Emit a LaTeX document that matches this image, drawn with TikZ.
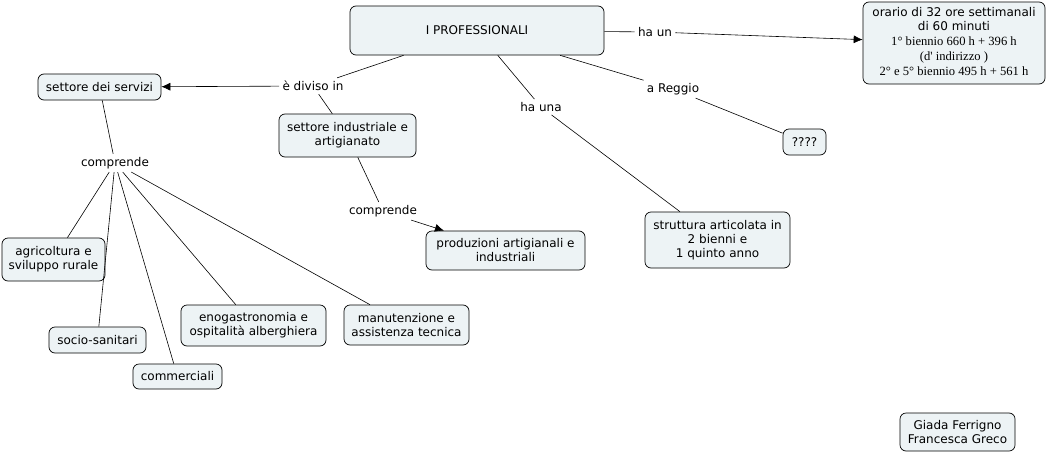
\documentclass[tikz,border=0pt]{standalone}
\usepackage{fontspec}
\usetikzlibrary{arrows.meta}
\setmainfont{DejaVu Sans}
\newfontfamily\tnr{Liberation Serif}
\newcommand\mapfont{\fontsize{12}{14}\selectfont}
\newcommand\timesfont{\tnr\fontsize{12.6}{15}\selectfont}
\definecolor{boxfill}{RGB}{237,243,245}
\tikzset{>={Latex[length=9pt,width=8pt]}}
\tikzset{concept/.style={draw, rounded corners=6pt, fill=boxfill, align=center, font=\mapfont, inner sep=1pt, line width=0.7pt}}
\tikzset{link/.style={font=\mapfont, inner sep=3pt}}

\begin{document}
\begin{tikzpicture}[x=1pt,y=-1pt,line width=0.6pt]
    \useasboundingbox (0,0) rectangle (1051,455);
    \node[concept, minimum width=254pt, minimum height=49pt] (prof) at (477,30.5) {I PROFESSIONALI};
    \node[concept, minimum width=182pt, minimum height=82pt] (orario) at (954,43) {\begin{tabular}{@{}c@{}}orario di 32 ore settimanali\\ di 60 minuti\\[1pt] {\timesfont 1° biennio 660 h + 396 h}\\[1pt] {\timesfont (d' indirizzo )}\\[1pt] {\timesfont 2° e 5° biennio 495 h + 561 h}\end{tabular}};
    \node[concept, minimum width=123pt, minimum height=26pt] (servizi) at (99.5,87) {settore dei servizi};
    \node[concept, minimum width=137pt, minimum height=43pt] (industr) at (347.5,135.5) {settore industriale e\\ artigianato};
    \node[concept, minimum width=43pt, minimum height=26pt] (ignoto) at (804.5,142) {????};
    \node[concept, minimum width=103pt, minimum height=43pt] (agri) at (53.5,259.5) {agricoltura e\\ sviluppo rurale};
    \node[concept, minimum width=159pt, minimum height=39pt] (produz) at (505.5,250.5) {produzioni artigianali e\\ industriali};
    \node[concept, minimum width=145pt, minimum height=56pt] (strutt) at (717.5,240) {struttura articolata in\\ 2 bienni e\\ 1 quinto anno};
    \node[concept, minimum width=145pt, minimum height=41pt] (enogas) at (253.5,325.5) {enogastronomia e\\ ospitalità alberghiera};
    \node[concept, minimum width=125pt, minimum height=40pt] (manut) at (406.5,325) {manutenzione e\\ assistenza tecnica};
    \node[concept, minimum width=97pt, minimum height=26pt] (socio) at (97.5,340) {socio-sanitari};
    \node[concept, minimum width=89pt, minimum height=25pt] (commerc) at (177.5,376.5) {commerciali};
    \node[concept, minimum width=115pt, minimum height=38pt] (autori) at (957.5,432) {Giada Ferrigno\\ Francesca Greco};

    \node[link] (haun) at (655,32) {ha un};
    \node[link] (diviso) at (313,86) {è diviso in};
    \node[link] (hauna) at (541,107) {ha una};
    \node[link] (reggio) at (673,89) {a Reggio};
    \node[link] (compserv) at (115,163) {comprende};
    \node[link] (compind) at (383,211) {comprende};

    \draw (prof) -- (haun);
    \draw[->] (haun) -- (orario);
    \draw (prof) -- (diviso);
    \draw[->] (diviso) -- (servizi);
    \draw (diviso) -- (industr);
    \draw (prof) -- (hauna);
    \draw (hauna) -- (strutt);
    \draw (prof) -- (reggio);
    \draw (reggio) -- (ignoto);
    \draw (servizi) -- (compserv);
    \draw (compserv) -- (agri);
    \draw (compserv) -- (socio);
    \draw (compserv) -- (commerc);
    \draw (compserv) -- (enogas);
    \draw (compserv) -- (manut);
    \draw (industr) -- (compind);
    \draw[->] (compind) -- (produz);
\end{tikzpicture}
\end{document}
